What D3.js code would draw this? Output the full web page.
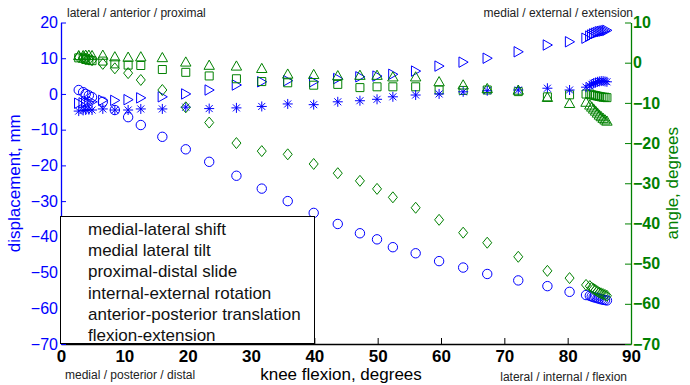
<!DOCTYPE html>
<html>
<head>
<meta charset="utf-8">
<script src="https://cdn.jsdelivr.net/npm/d3@7"></script>
<style>
  body { margin: 0; background: #fff; }
  svg { font-family: "Liberation Sans", Arial, sans-serif; }
</style>
</head>
<body>
<svg id="chart" width="690" height="385"></svg>
<script>
// knee flexion samples, degrees (shared by all six series)
const flexion = [2.8, 3.5, 3.9, 4.4, 4.9, 6.6, 8.5, 10.6, 12.6, 16.0, 19.7, 23.4, 27.7, 31.7, 35.8, 39.9, 43.7, 47.2, 49.9, 52.4,
  56.0, 59.7, 63.5, 67.3, 72.2, 76.8, 80.3, 82.9, 83.5, 83.8, 84.1, 84.4, 84.7, 85.0, 85.3, 85.6, 85.9, 86.2];

// displacements, mm (left axis)
const mlShift = [-2.6, -2.5, -2.4, -2.3, -2.2, -1.8, -1.8, -1.6, -1.1, -0.8, 0.0, 1.1, 2.5, 3.4, 3.7, 3.4, 4.3, 4.8, 5.0, 5.5,
  6.4, 7.8, 8.9, 10.0, 11.8, 13.7, 14.6, 15.6, 16.2, 16.5, 16.8, 17.0, 17.2, 17.4, 17.5, 17.6, 17.7, 17.8];
const pdSlide = [-4.8, -4.6, -4.5, -4.4, -4.5, -4.2, -4.5, -4.5, -4.2, -4.2, -3.7, -4.1, -3.9, -3.5, -2.8, -3.0, -2.2, -1.9, -1.5, -0.8,
  -0.3, 0.0, 0.6, 0.9, 1.1, 1.6, 1.1, 1.9, 2.3, 2.7, 3.0, 3.2, 3.4, 3.5, 3.6, 3.6, 3.5, 3.4];
const apTranslation = [1.1, 0.5, 0.0, -0.4, -0.9, -2.2, -4.5, -6.5, -8.7, -12.0, -15.5, -19.0, -22.9, -26.5, -30.0, -33.3, -36.4, -39.0, -40.7, -42.9,
  -44.6, -46.8, -48.6, -50.4, -52.2, -53.8, -55.4, -56.3, -56.5, -56.7, -56.9, -57.0, -57.2, -57.3, -57.5, -57.6, -57.7, -57.8];

// angles, degrees (right axis)
const mlTilt = [1.2, 1.1, 0.8, 0.6, 0.5, 0.4, -0.3, -0.6, -0.7, -1.7, -2.4, -3.3, -4.0, -4.7, -5.0, -5.6, -5.4, -6.2, -6.0, -6.0,
  -6.0, -6.8, -6.9, -6.8, -7.2, -8.5, -8.0, -7.8, -7.8, -8.0, -8.1, -8.2, -8.3, -8.4, -8.5, -8.6, -8.6, -8.7];
const ieRotation = [1.8, 1.8, 1.9, 1.9, 1.8, 1.9, 1.5, 1.4, 1.5, 1.3, 0.2, -0.6, -0.8, -1.4, -2.8, -2.9, -3.2, -3.1, -3.1, -3.5,
  -3.5, -4.7, -5.5, -6.4, -6.8, -8.6, -10.1, -9.8, -10.5, -11.0, -11.5, -12.0, -12.5, -13.0, -13.4, -13.8, -14.2, -14.5];
const flexExt = [1.4, 1.2, 1.0, 0.8, 0.6, -0.3, -1.4, -2.6, -4.3, -6.8, -11.1, -14.9, -20.0, -22.0, -22.8, -25.2, -27.5, -29.4, -31.4, -33.5,
  -36.1, -39.1, -42.3, -44.8, -48.3, -51.8, -53.6, -55.3, -55.6, -56.0, -56.3, -56.6, -56.9, -57.2, -57.4, -57.6, -57.8, -58.0];

const legendLabels = ["medial-lateral shift", "medial lateral tilt", "proximal-distal slide",
  "internal-external rotation", "anterior-posterior translation", "flexion-extension"];
const xTicks = [0, 10, 20, 30, 40, 50, 60, 70, 80, 90];
const leftTicks = [20, 10, 0, -10, -20, -30, -40, -50, -60, -70];
const rightTicks = [10, 0, -10, -20, -30, -40, -50, -60, -70];

const BLUE = "#0000ff", GREEN = "#008000";
const plot = { left: 61, right: 631, top: 22.5, bottom: 344 };

const svg = d3.select("#chart");

const x = d3.scaleLinear().domain([0, 90]).range([plot.left, plot.right]);
const yL = d3.scaleLinear().domain([-70, 20]).range([plot.bottom, plot.top]);
const yR = d3.scaleLinear().domain([-70, 10]).range([plot.bottom, plot.top]);

// marker shapes (matlab style, open)
const shapes = {
  circle: "M4.7,0A4.7,4.7 0 1,1 -4.7,0A4.7,4.7 0 1,1 4.7,0Z",
  right: "M-4.2,-5.2L5,0L-4.2,5.2Z",
  up: "M0,-5L5.2,4.2L-5.2,4.2Z",
  square: "M-4,-4H4V4H-4Z",
  diamond: "M0,-5.5L4.5,0L0,5.5L-4.5,0Z",
  star: "M-5,0H5M0,-5V5M-3.5,-3.5L3.5,3.5M-3.5,3.5L3.5,-3.5"
};

// drawn in legend order
const series = [
  { values: mlShift, y: yL, shape: "right", color: BLUE },
  { values: mlTilt, y: yR, shape: "square", color: GREEN },
  { values: pdSlide, y: yL, shape: "star", color: BLUE },
  { values: ieRotation, y: yR, shape: "up", color: GREEN },
  { values: apTranslation, y: yL, shape: "circle", color: BLUE },
  { values: flexExt, y: yR, shape: "diamond", color: GREEN }
];

series.forEach(s => {
  svg.append("g")
    .selectAll("path")
    .data(s.values)
    .join("path")
      .attr("transform", (v, i) => `translate(${x(flexion[i])},${s.y(v)})`)
      .attr("d", shapes[s.shape])
      .attr("fill", "none")
      .attr("stroke", s.color)
      .attr("stroke-width", 1);
});

// axes
const gx = svg.append("g")
  .attr("transform", `translate(0,${plot.bottom})`)
  .call(d3.axisBottom(x).tickValues(xTicks).tickSizeInner(-6).tickSizeOuter(0).tickPadding(6));
gx.select(".domain").attr("stroke", "#000").attr("stroke-width", 1.3);
gx.selectAll(".tick line").attr("stroke", "#000");
gx.selectAll("text").attr("font-size", 17).attr("font-weight", "bold").attr("fill", "#000")
  .attr("font-family", "Liberation Sans, Arial, sans-serif");

const gl = svg.append("g")
  .attr("transform", `translate(${plot.left},0)`)
  .call(d3.axisLeft(yL).tickValues(leftTicks).tickSizeInner(-5).tickSizeOuter(0).tickPadding(3));
gl.select(".domain").attr("stroke", BLUE).attr("stroke-width", 1.3);
gl.selectAll(".tick line").attr("stroke", BLUE);
gl.selectAll("text").attr("font-size", 16).attr("fill", BLUE)
  .attr("font-family", "Liberation Sans, Arial, sans-serif");

const gr = svg.append("g")
  .attr("transform", `translate(${plot.right},0)`)
  .call(d3.axisRight(yR).tickValues(rightTicks).tickSizeInner(-6).tickSizeOuter(0).tickPadding(2));
gr.select(".domain").attr("stroke", GREEN).attr("stroke-width", 1.3);
gr.selectAll(".tick line").attr("stroke", GREEN);
gr.selectAll("text").attr("font-size", 16).attr("font-weight", "bold").attr("fill", GREEN)
  .attr("font-family", "Liberation Sans, Arial, sans-serif");

// axis titles
svg.append("text")
  .attr("transform", `translate(20,${(plot.top + plot.bottom) / 2}) rotate(-90)`)
  .attr("text-anchor", "middle")
  .attr("font-size", 17)
  .attr("fill", BLUE)
  .text("displacement, mm");

svg.append("text")
  .attr("transform", `translate(678,${(plot.top + plot.bottom) / 2}) rotate(-90)`)
  .attr("text-anchor", "middle")
  .attr("font-size", 17)
  .attr("fill", GREEN)
  .text("angle, degrees");

svg.append("text")
  .attr("x", 341).attr("y", 380)
  .attr("text-anchor", "middle")
  .attr("font-size", 17)
  .attr("fill", "#000")
  .text("knee flexion, degrees");

// direction notes
const notes = [
  { text: "lateral / anterior / proximal", x: 67, y: 17, anchor: "start" },
  { text: "medial / external / extension", x: 633, y: 17, anchor: "end" },
  { text: "medial / posterior / distal", x: 65, y: 379, anchor: "start" },
  { text: "lateral / internal / flexion", x: 627, y: 381, anchor: "end" }
];
svg.append("g")
  .selectAll("text")
  .data(notes)
  .join("text")
    .attr("x", d => d.x).attr("y", d => d.y)
    .attr("text-anchor", d => d.anchor)
    .attr("font-size", 12)
    .attr("fill", "#222")
    .text(d => d.text);

// legend (text only, no markers)
const legend = svg.append("g");
legend.append("rect")
  .attr("x", 60.5).attr("y", 216.5)
  .attr("width", 254).attr("height", 127)
  .attr("fill", "#fff")
  .attr("stroke", "#000")
  .attr("stroke-width", 1);
legend.selectAll("text")
  .data(legendLabels)
  .join("text")
    .attr("x", 88)
    .attr("y", (d, i) => 229 + i * 21.2)
    .attr("dy", "0.35em")
    .attr("font-size", 17)
    .attr("fill", "#111")
    .text(d => d);
</script>
</body>
</html>
